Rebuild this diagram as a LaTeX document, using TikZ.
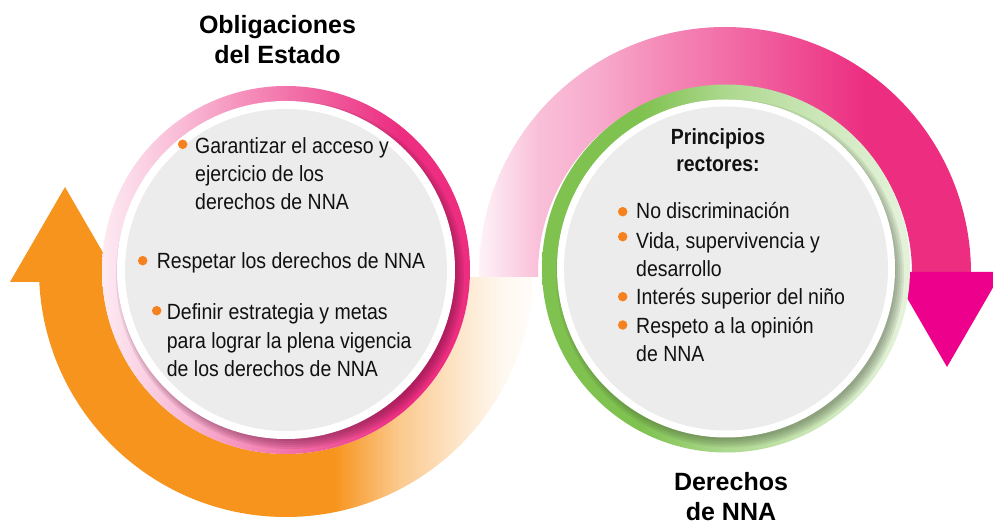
\documentclass[tikz,border=0pt]{standalone}
\usepackage{fontspec}
\setmainfont{Liberation Sans}
\newfontfamily\bodyfont{Liberation Sans}[FakeStretch=0.885]
\newfontfamily\headfont{Liberation Sans}
\usetikzlibrary{calc}
\definecolor{orangeC}{HTML}{F7941D}
\definecolor{bulletC}{HTML}{F5821F}
\definecolor{pinkC}{HTML}{EC2D80}
\definecolor{magentaC}{HTML}{EC008C}
\definecolor{greenC}{HTML}{7FC24F}
\definecolor{greyC}{HTML}{EBECEB}
\definecolor{pinkShadow}{HTML}{5E1035}
\definecolor{greenShadow}{HTML}{3E4A36}
\definecolor{textC}{HTML}{111111}
\pgfdeclarehorizontalshading{orangefade}{100bp}{color(0bp)=(orangeC); color(54.8bp)=(orangeC); color(61.5bp)=(orangeC!50); color(68.3bp)=(orangeC!20); color(71.7bp)=(orangeC!7); color(75bp)=(orangeC!3); color(100bp)=(orangeC!3)}
\pgfdeclarehorizontalshading{pinkarcfade}{100bp}{color(0bp)=(pinkC!5); color(25bp)=(pinkC!5); color(31.1bp)=(pinkC!30); color(37.2bp)=(pinkC!40); color(43.3bp)=(pinkC!55); color(49.7bp)=(pinkC!68); color(57.5bp)=(pinkC!85); color(64.6bp)=(pinkC); color(100bp)=(pinkC)}
\pgfdeclarehorizontalshading{pinkring}{100bp}{color(0bp)=(pinkC!10); color(25bp)=(pinkC!10); color(36.9bp)=(pinkC!35); color(45bp)=(pinkC!55); color(51.8bp)=(pinkC!70); color(58.7bp)=(pinkC!85); color(65.5bp)=(pinkC); color(100bp)=(pinkC)}
\pgfdeclarehorizontalshading{greenring}{100bp}{color(0bp)=(greenC); color(38.3bp)=(greenC); color(41bp)=(greenC!92); color(49.6bp)=(greenC!65); color(60bp)=(greenC!45); color(66.8bp)=(greenC!33); color(73.6bp)=(greenC!22); color(100bp)=(greenC!20)}
\tikzset{
  txt/.style={anchor=base west, inner sep=0pt, text=textC, font={\bodyfont\fontsize{22}{26}\selectfont}},
  headtxt/.style={anchor=base, inner sep=0pt, text=textC, font={\bodyfont\bfseries\fontsize{22}{26}\selectfont}},
  title/.style={anchor=base, inner sep=0pt, text=black, font={\headfont\bfseries\fontsize{25}{30}\selectfont}},
  bul/.style={circle, fill=bulletC, inner sep=0pt, minimum size=9.5pt},
}
\begin{document}
\begin{tikzpicture}[x=1pt,y=1pt]
\useasboundingbox (0,0) rectangle (993,524);
\fill[white] (0,0) rectangle (993,524);
\clip (0,0) rectangle (993,524);
\coordinate (C1) at (286,254);
\coordinate (C2) at (726,255.5);
\coordinate (C2a) at (725,251);
% orange arrow
\shade[shading=orangefade] ($(C1)+(182.8:247)$) arc[start angle=182.8, end angle=358.4, radius=247] -- ($(C1)+(357.8:184)$) arc[start angle=357.8, end angle=183.7, radius=184] -- cycle;
\fill[orangeC] (10,242) -- (65,337) -- (120,242) -- cycle;
% pink arrow
\shade[shading=pinkarcfade] ($(C2a)+(180.9:246)$) arc[start angle=180.9, end angle=0.2, radius=246] -- ($(C2a)+(0.3:187)$) arc[start angle=0.3, end angle=181.2, radius=187] -- cycle;
\fill[magentaC] (892,252) -- (947,157) -- (1002,252) -- cycle;
% left circle
\shade[shading=pinkring] (C1) circle (184);
\begin{scope}
  \clip (C1) circle (184);
  \foreach \r in {166,168,170,172,174} \fill[pinkShadow, opacity=0.1] ($(C1)+(4,-5)$) circle (\r);
\end{scope}
\fill[white] (C1) circle (169);
\fill[greyC] (C1) circle (161);
% right circle
\shade[shading=greenring] (C2) circle (184);
\begin{scope}
  \clip (C2) circle (184);
  \foreach \r in {166,168,170,172,174} \fill[greenShadow, opacity=0.1] ($(C2)+(4,-5)$) circle (\r);
\end{scope}
\fill[white] (C2) circle (169);
\fill[greyC] (C2) circle (162);
% titles
\node[title] (t1a) at (277.5,490.7) {Obligaciones};
\node[title] (t1b) at (277.5,460.7) {del Estado};
\node[title] (t2a) at (731,33.5) {Derechos};
\node[title, text depth=0pt] (t2b) at (731,3.5) {de NNA};
% left text
\node[bul] (lb1) at (182.7,379.7) {};
\node[txt] (l1a) at (195,370.7) {Garantizar el acceso y};
\node[txt] (l1b) at (195,342.3) {ejercicio de los};
\node[txt] (l1c) at (195,314) {derechos de NNA};
\node[bul] (lb2) at (142.7,263.3) {};
\node[txt] (l2a) at (156.7,255.7) {Respetar los derechos de NNA};
\node[bul] (lb3) at (156.7,213.3) {};
\node[txt] (l3a) at (166.7,204) {Definir estrategia y metas};
\node[txt] (l3b) at (166.7,175.7) {para lograr la plena vigencia};
\node[txt] (l3c) at (166.7,147.3) {de los derechos de NNA};
% right text
\node[headtxt] (h1) at (718,379) {Principios};
\node[headtxt] (h2) at (718,352.3) {rectores:};
\node[bul] (rb1) at (622.7,312.3) {};
\node[txt] (r1) at (636,305) {No discriminación};
\node[bul] (rb2) at (622.7,287.3) {};
\node[txt] (r2a) at (636,275.7) {Vida, supervivencia y};
\node[txt] (r2b) at (636,247.3) {desarrollo};
\node[bul] (rb3) at (622.7,227.3) {};
\node[txt] (r3) at (636,219) {Interés superior del niño};
\node[bul] (rb4) at (622.7,199) {};
\node[txt] (r4a) at (636,190.7) {Respeto a la opinión};
\node[txt] (r4b) at (636,162.3) {de NNA};
\end{tikzpicture}
\end{document}
